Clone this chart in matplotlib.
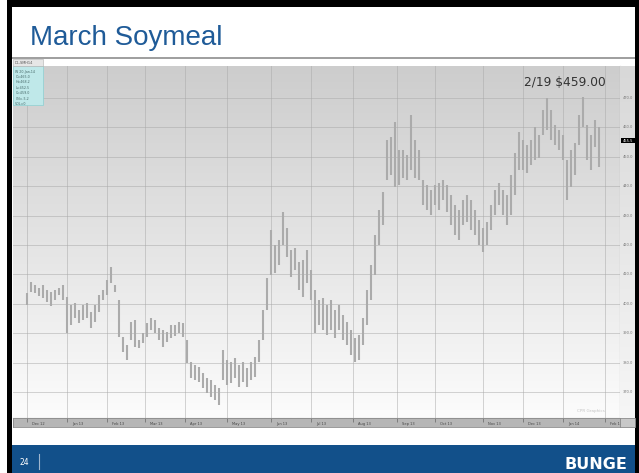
import matplotlib.pyplot as plt
import numpy as np
from matplotlib.colors import LinearSegmentedColormap
from matplotlib.patches import Rectangle
from matplotlib.lines import Line2D

# daily range of the March 2014 soymeal contract (one bar every ~2 sessions)
highs = [403.7, 407.4, 406.4, 405.4, 406.4, 404.7, 404.0, 404.7, 405.4, 406.4,
         402.3, 399.6, 400.3, 397.9, 399.6, 400.3, 397.2, 399.6, 403.0, 404.7,
         408.1, 412.5, 406.4, 401.3, 388.7, 386.0, 393.8, 394.5, 387.7, 390.0,
         393.4, 395.1, 394.5, 391.7, 391.1, 390.4, 392.8, 392.8, 393.8, 393.4,
         387.7, 380.2, 379.2, 378.5, 376.4, 374.7, 374.1, 372.4, 371.3, 384.3,
         380.9, 380.2, 381.5, 379.2, 380.2, 378.1, 380.2, 381.9, 387.7, 397.9,
         408.8, 425.1, 420.0, 421.7, 431.2, 425.8, 418.3, 419.0, 414.2, 414.9,
         418.3, 411.5, 404.7, 401.3, 402.0, 399.6, 401.3, 397.9, 399.6, 396.2,
         393.8, 391.1, 388.3, 389.4, 395.1, 404.7, 413.2, 423.4, 431.9, 438.0,
         455.7, 456.7, 461.8, 452.3, 452.3, 450.6, 464.2, 455.7, 452.3, 442.1,
         440.4, 438.7, 440.4, 441.1, 442.1, 440.4, 437.0, 433.6, 431.9, 435.3,
         437.0, 435.3, 431.9, 428.5, 425.8, 427.8, 433.6, 438.7, 441.1, 438.7,
         437.0, 443.8, 451.3, 458.4, 455.7, 454.0, 455.7, 460.1, 457.4, 465.9,
         470.0, 465.9, 460.8, 459.1, 457.4, 448.9, 452.3, 454.7, 464.2, 470.3,
         460.8, 457.4, 462.5, 460.1]
lows = [399.6, 404.0, 403.7, 402.6, 402.0, 400.6, 399.2, 401.3, 403.0, 401.3,
        390.0, 392.8, 395.1, 393.4, 394.5, 395.1, 391.7, 393.8, 397.2, 401.3,
        403.0, 407.1, 404.0, 388.7, 383.6, 380.9, 387.7, 385.3, 384.9, 386.6,
        388.7, 391.1, 390.0, 387.7, 385.3, 387.0, 388.3, 389.0, 390.0, 388.7,
        379.8, 374.7, 374.1, 373.4, 371.3, 369.6, 368.3, 367.3, 365.6, 374.1,
        372.4, 373.0, 374.7, 371.7, 373.4, 371.7, 374.1, 375.1, 380.2, 387.7,
        397.9, 409.8, 410.5, 413.2, 420.0, 415.9, 409.1, 411.5, 404.7, 402.3,
        407.1, 401.3, 390.0, 392.8, 391.1, 389.4, 391.1, 388.3, 391.1, 387.7,
        386.0, 382.6, 380.2, 380.9, 386.0, 392.8, 401.3, 409.8, 420.0, 426.8,
        442.1, 443.8, 439.7, 440.4, 442.8, 442.1, 445.5, 442.8, 442.1, 433.6,
        431.9, 430.2, 433.6, 431.9, 435.3, 431.2, 426.8, 423.4, 421.7, 426.8,
        427.8, 425.1, 423.4, 420.0, 417.6, 420.0, 425.1, 430.2, 433.6, 430.2,
        426.8, 430.2, 437.0, 445.5, 445.5, 444.5, 447.2, 448.9, 449.6, 457.4,
        459.1, 455.7, 454.0, 452.3, 448.9, 435.3, 439.7, 443.8, 454.0, 460.1,
        448.9, 445.5, 453.3, 446.5]

month_labels = ["Dec 12", "Jan 13", "Feb 13", "Mar 13", "Apr 13", "May 13", "Jun 13",
                "Jul 13", "Aug 13", "Sep 13", "Oct 13", "Nov 13", "Dec 13", "Jan 14", "Feb 14"]
month_starts = [0, 10, 20, 29.5, 39.5, 50, 61, 71, 81.5, 92.5, 102, 114, 124, 134, 144.5]
price_ticks = [370, 380, 390, 400, 410, 420, 430, 440, 450, 460, 470]
last_price = 455.5
note = "2/19 $459.00"
legend_lines = ["W 20-Jan-14", "O=465.0", "H=468.2", "L=452.5", "C=459.0", "CN=-5.2", "VOL=0"]

W, H = 639, 473
fig = plt.figure(figsize=(W / 100, H / 100), dpi=100)
fig.patch.set_facecolor("white")


def box(x0, y0, x1, y1):
    # pixel box (top-left origin) -> figure fraction [l, b, w, h]
    return [x0 / W, 1 - y1 / H, (x1 - x0) / W, (y1 - y0) / H]


def rect(x0, y0, x1, y1, color, **kw):
    l, b, w, h = box(x0, y0, x1, y1)
    fig.patches.append(Rectangle((l, b), w, h, transform=fig.transFigure,
                                 facecolor=color, edgecolor=kw.pop("ec", "none"), **kw))


# slide frame and footer
rect(7, 0, 639, 7, "black")
rect(7, 0, 12, 473, "black")
rect(635, 0, 639, 473, "black")
rect(12, 445, 635, 473, "#12508a")
fig.text(30 / W, 1 - 45 / H, "March Soymeal", fontsize=20, color="#1f5b98",
         family="Liberation Sans", va="baseline")
fig.text(19 / W, 1 - 465 / H, "24", fontsize=5.5, color="white", va="baseline")
fig.add_artist(Line2D([38.5 / W] * 2, [1 - 454 / H, 1 - 469 / H], color="#9fb6cf", lw=0.8))
fig.text(627 / W, 1 - 469 / H, "BUNGE", ha="right", va="baseline", fontsize=11.5,
         fontweight="bold", color="white", family="DejaVu Sans")

# chart window top strip
rect(12, 57, 635, 59, "#a0a0a0")
rect(13, 59, 43, 66, "#e6e6e6", ec="#b0b0b0", lw=0.4)
fig.text(15 / W, 1 - 64.5 / H, "DL-SMH14", fontsize=2.5, color="#555555")

bg = LinearSegmentedColormap.from_list("bg", ["#cdcdcd", "#e4e4e4", "#fcfcfc"])
grad = np.linspace(0, 1, 256).reshape(-1, 1)
ylo, yhi = 361.2, 480.9
xlo, xhi = -3.5, 148.25

# main price panel
ax = fig.add_axes(box(13, 66, 620, 418))
ax.imshow(grad, cmap=bg, aspect="auto", extent=(xlo, xhi, ylo, yhi), origin="upper", zorder=0)
x = np.arange(len(highs))
ax.vlines(x, lows, highs, color="#ababab", lw=1.5, zorder=3)
ax.set_xlim(xlo, xhi)
ax.set_ylim(ylo, yhi)
ax.set_xticks(month_starts)
ax.set_yticks(price_ticks)
ax.grid(True, color="#a8a8a8", lw=0.7, alpha=0.5, zorder=1)
ax.tick_params(length=0, labelbottom=False, labelleft=False)
for s in ["top", "left"]:
    ax.spines[s].set_visible(False)
ax.spines["right"].set_color("#8a8a8a")
ax.spines["bottom"].set_color("#8a8a8a")
ax.text(0.975, 0.015, "CPR Graphics", transform=ax.transAxes, ha="right", va="bottom",
        fontsize=3, color="#c4c4c4")

# OHLC legend box
ax.add_patch(Rectangle((0, 0.888), 0.05, 0.112, transform=ax.transAxes,
                       facecolor="#bfe8e9", edgecolor="#8ccfd1", lw=0.5, zorder=5))
for k, t in enumerate(legend_lines):
    ax.text(0.004, 0.99 - k * 0.0155, t, transform=ax.transAxes, fontsize=2.3,
            color="#446666", va="top", zorder=6)

fig.text(606 / W, 1 - 86 / H, note, ha="right", va="baseline", fontsize=8.8, color="#333333")

# right price scale strip
ax2 = fig.add_axes(box(620, 66, 635, 418))
ax2.imshow(grad, cmap=LinearSegmentedColormap.from_list("bg2", ["#d8d8d8", "#f6f6f6"]),
           aspect="auto", extent=(0, 1, ylo, yhi), origin="upper", zorder=0)
ax2.set_xlim(0, 1)
ax2.set_ylim(ylo, yhi)
ax2.axis("off")
for p in price_ticks:
    ax2.text(0.2, p, f"{p:.1f}", fontsize=2.6, color="#777777", va="center")
ax2.add_patch(Rectangle((0.08, last_price - 0.9), 0.9, 1.8, facecolor="black", zorder=4))
ax2.text(0.18, last_price, f"{last_price:.1f}", fontsize=2.6, color="white", va="center", zorder=5)

# bottom date strip
ax3 = fig.add_axes(box(13, 418, 620, 427))
ax3.set_facecolor("#b6b6b6")
ax3.set_xlim(xlo, xhi)
ax3.set_ylim(0, 1)
ax3.set_xticks([])
ax3.set_yticks([])
for s in ax3.spines.values():
    s.set_color("#8a8a8a")
    s.set_linewidth(0.6)
for m, lab in zip(month_starts, month_labels):
    ax3.vlines(m, 0.55, 1, color="#666666", lw=0.5)
    ax3.text(m + 1.2, 0.35, lab, fontsize=2.6, color="#444444", va="center")
rect(620, 418, 635, 427, "#c8c8c8", ec="#8a8a8a", lw=0.6)

fig.savefig("out.png", dpi=100)
